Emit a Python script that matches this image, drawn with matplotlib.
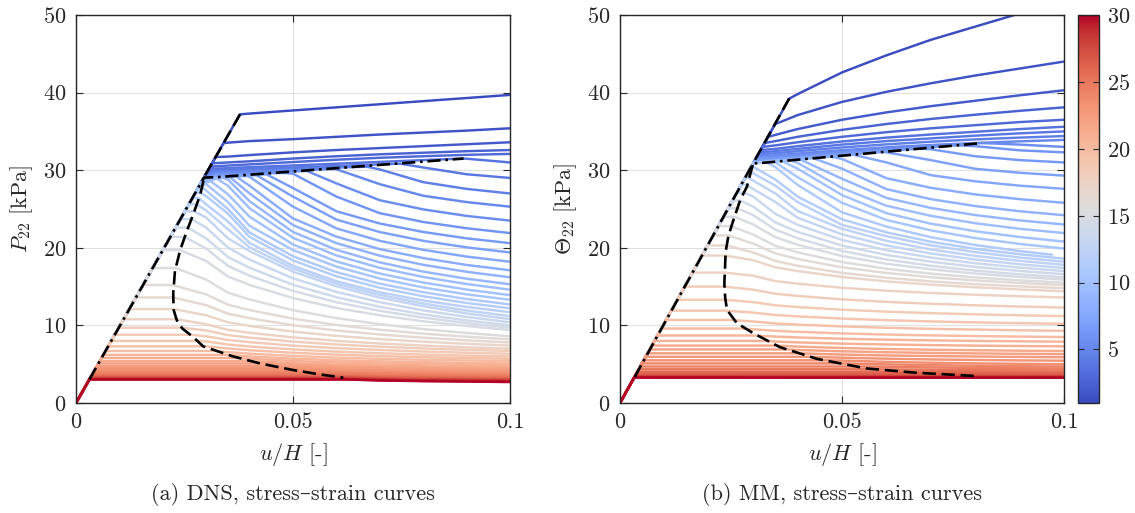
import numpy as np
import matplotlib
matplotlib.use('Agg')
import matplotlib.pyplot as plt
from matplotlib import colors

plt.rcParams['font.family'] = ['cmr10', 'DejaVu Serif']
plt.rcParams['mathtext.fontset'] = 'cm'
plt.rcParams['axes.formatter.use_mathtext'] = True
plt.rcParams['font.size'] = 16

_ = np.nan

# colour parameter of each curve (colorbar value)
levels = [1, 1.5, 2, 2.5, 3, 3.5, 4, 4.5, 5, 5.5, 6, 6.5, 7, 7.5, 8, 8.5, 9, 9.5, 10, 10.5,
          11, 11.5, 12, 12.5, 13, 13.5, 14, 14.5, 15, 15.5, 16, 16.5, 17, 17.5, 18, 18.5, 19, 19.5, 20, 20.5,
          21, 21.5, 22, 22.5, 23, 23.5, 24, 24.5, 25, 25.5, 26, 26.5, 27, 27.5, 28, 28.5, 29, 29.5, 30]

# strain positions where the post-peak stresses were read
grid_x = [0.03, 0.035, 0.04, 0.05, 0.06, 0.07, 0.08, 0.09, 0.1]

# ---------------- (a) DNS ----------------
E_dns = 985.0
dns_yield = [37.2, 33.5, 31.7, 30.6, 30.2, 29.6, 29.4, 29.2, 29.1, 29.0,
             28.9, 28.8, 28.7, 28.6, 28.5, 28.4, 28.3, 28.2, 28.0, 27.9,
             27.5, 27.1, 26.4, 25.6, 24.7, 23.7, 22.6, 21.4, 19.7, 17.4,
             15.2, 13.6, 12.1, 10.8, 9.7, 8.8, 8.0, 7.3, 6.7, 6.2,
             5.8, 5.4, 5.1, 4.8, 4.5, 4.25, 4.0, 3.8, 3.6, 3.5,
             3.4, 3.3, 3.25, 3.2, 3.15, 3.1, 3.08, 3.05, 3.03]
dns_knee_x = [0.0378, 0.0341, 0.0322, 0.0316, 0.0318, 0.0318, 0.032, 0.0321, 0.0322, 0.0322,
              0.0322, 0.0322, 0.0322, 0.0322, 0.0322, 0.0322, 0.0322, 0.0324, 0.031, 0.030,
              0.0293, 0.0287, 0.0283, 0.0278, 0.0272, 0.0266, 0.0258, 0.025, 0.024, 0.0229,
              0.0223, 0.0224, 0.0226, 0.0232, 0.0244, 0.0262, 0.0279, 0.0293, 0.032, 0.0345,
              0.037, 0.0395, 0.0424, 0.0455, 0.0475, 0.05, 0.053, 0.0555, 0.058, 0.059,
              0.0605, 0.0615, 0.062, 0.062, 0.062, 0.062, 0.062, 0.062, 0.062]
dns_knee_s = [37.2, 33.5, 31.7, 30.9, 30.5, 30.2, 30.0, 29.85, 29.7, 29.55,
              29.4, 29.3, 29.22, 29.12, 29.05, 29.0, 28.95, 28.93, 28.6, 28.2,
              27.7, 27.1, 26.4, 25.6, 24.7, 23.7, 22.6, 21.4, 19.7, 17.4,
              15.2, 13.6, 12.1, 10.8, 9.7, 8.8, 8.0, 7.3, 6.7, 6.2,
              5.8, 5.4, 5.1, 4.8, 4.5, 4.25, 4.0, 3.8, 3.6, 3.5,
              3.4, 3.3, 3.25, 3.2, 3.15, 3.1, 3.08, 3.05, 3.03]
# maxima lying on the dash-dot line
dns_peak = {5: (0.089, 31.5), 6: (0.0747, 30.84), 7: (0.067, 30.45), 8: (0.0593, 30.15),
            9: (0.0532, 29.9), 10: (0.0478, 29.65), 11: (0.0439, 29.46), 12: (0.0416, 29.35),
            13: (0.0393, 29.25), 14: (0.037, 29.15), 15: (0.0355, 29.08), 16: (0.0339, 29.0)}
dns_s = np.array([
    [_, _, 37.3, 37.7, 38.1, 38.5, 38.9, 39.3, 39.7],
    [_, 33.55, 33.75, 34.0, 34.3, 34.6, 34.85, 35.1, 35.4],
    [_, 31.75, 31.95, 32.3, 32.6, 32.85, 33.1, 33.35, 33.6],
    [_, 31.0, 31.15, 31.5, 31.8, 32.05, 32.25, 32.45, 32.6],
    [_, 30.6, 30.75, 31.05, 31.35, 31.6, 31.8, 31.98, 32.1],
    [_, 30.27, 30.39, 30.61, 30.84, 31.07, 31.3, 31.48, 31.0],
    [_, 30.06, 30.16, 30.35, 30.55, 30.75, 30.35, 29.48, 29.0],
    [_, 29.9, 29.99, 30.16, 30.33, 30.1, 28.46, 27.59, 27.0],
    [_, 29.75, 29.83, 29.99, 30.12, 28.2, 26.71, 25.89, 25.3],
    [_, 29.6, 29.68, 29.85, 28.3, 26.13, 24.95, 24.11, 23.5],
    [_, 29.45, 29.53, 29.55, 26.6, 24.46, 23.33, 22.52, 21.9],
    [_, 29.34, 29.41, 27.7, 24.71, 23.13, 22.04, 21.22, 20.6],
    [_, 29.26, 29.33, 26.6, 23.63, 22.03, 20.9, 20.06, 19.4],
    [_, 29.17, 29.15, 25.3, 22.5, 20.9, 19.74, 18.87, 18.2],
    [_, 29.12, 28.0, 23.78, 21.44, 19.83, 18.68, 17.79, 17.1],
    [_, 29.07, 27.0, 22.93, 20.6, 18.98, 17.81, 16.91, 16.2],
    [_, 28.8, 26.0, 22.04, 19.74, 18.12, 16.93, 16.02, 15.3],
    [_, 28.0, 25.1, 21.28, 19.01, 17.42, 16.24, 15.33, 14.6],
    [_, 26.9, 24.0, 20.43, 18.24, 16.68, 15.52, 14.62, 13.9],
    [_, 25.9, 22.84, 19.71, 17.58, 16.04, 14.89, 14.0, 13.3],
    [_, 25.0, 21.97, 18.91, 16.86, 15.37, 14.28, 13.4, 12.7],
    [26.65, 24.4, 21.41, 18.37, 16.33, 14.85, 13.76, 12.89, 12.2],
    [25.6, 23.4, 20.62, 17.68, 15.7, 14.27, 13.21, 12.38, 11.7],
    [24.8, 22.4, 20.06, 17.32, 15.38, 13.94, 12.81, 11.92, 11.2],
    [23.9, 21.23, 19.56, 16.92, 15.04, 13.58, 12.47, 11.54, 10.8],
    [22.6, 20.04, 18.47, 16.07, 14.32, 12.99, 11.94, 11.09, 10.4],
    [21.2, 18.82, 17.43, 15.23, 13.63, 12.39, 11.42, 10.64, 10.0],
    [19.9, 17.68, 16.4, 14.44, 12.99, 11.88, 11.0, 10.29, 9.7],
    [18.3, 16.3, 15.22, 13.52, 12.25, 11.3, 10.53, 9.92, 9.4],
    [15.9, 14.22, 13.34, 11.96, 10.94, 10.16, 9.53, 9.02, 8.6],
    [14.0, 12.67, 11.97, 10.87, 10.06, 9.44, 8.94, 8.54, 8.2],
    [12.6, 11.51, 10.93, 10.02, 9.34, 8.83, 8.41, 8.08, 7.8],
    [11.3, 10.4, 9.93, 9.2, 8.65, 8.23, 7.9, 7.63, 7.4],
    [10.15, 9.43, 9.05, 8.45, 8.01, 7.67, 7.4, 7.18, 7.0],
    [9.35, 8.75, 8.42, 7.92, 7.54, 7.26, 7.03, 6.85, 6.7],
    [8.6, 8.13, 7.84, 7.39, 7.07, 6.83, 6.63, 6.48, 6.35],
    [7.94, 7.54, 7.28, 6.9, 6.62, 6.41, 6.24, 6.11, 6.0],
    [7.3, 7.03, 6.8, 6.47, 6.23, 6.04, 5.9, 5.79, 5.7],
    [_, 6.56, 6.36, 6.06, 5.85, 5.69, 5.57, 5.48, 5.4],
    [_, 6.19, 6.0, 5.71, 5.51, 5.37, 5.26, 5.17, 5.1],
    [_, _, 5.69, 5.42, 5.23, 5.1, 5.0, 4.91, 4.85],
    [_, _, 5.39, 5.13, 4.95, 4.83, 4.73, 4.66, 4.6],
    [_, _, _, 4.9, 4.73, 4.61, 4.52, 4.45, 4.4],
    [_, _, _, 4.69, 4.52, 4.4, 4.32, 4.25, 4.2],
    [_, _, _, 4.44, 4.29, 4.18, 4.1, 4.05, 4.0],
    [_, _, _, _, 4.09, 3.98, 3.9, 3.85, 3.8],
    [_, _, _, _, 3.9, 3.81, 3.74, 3.69, 3.65],
    [_, _, _, _, 3.76, 3.65, 3.58, 3.54, 3.5],
    [_, _, _, _, 3.59, 3.49, 3.43, 3.38, 3.35],
    [_, _, _, _, 3.5, 3.39, 3.33, 3.28, 3.25],
    [_, _, _, _, _, 3.3, 3.23, 3.19, 3.15],
    [_, _, _, _, _, 3.2, 3.13, 3.09, 3.05],
    [_, _, _, _, _, 3.15, 3.08, 3.04, 3.0],
    [_, _, _, _, _, 3.1, 3.03, 2.99, 2.95],
    [_, _, _, _, _, 3.05, 2.98, 2.94, 2.9],
    [_, _, _, _, _, 3.0, 2.93, 2.89, 2.85],
    [_, _, _, _, _, 2.97, 2.89, 2.84, 2.8],
    [_, _, _, _, _, 2.93, 2.85, 2.8, 2.75],
    [_, _, _, _, _, 2.9, 2.81, 2.76, 2.7],
])
dns_dash_x = [0.0378, 0.0296, 0.0286, 0.027, 0.0255, 0.024, 0.0228, 0.0224, 0.0225, 0.0232,
              0.0245, 0.027, 0.0293, 0.033, 0.0362, 0.0424, 0.050, 0.056, 0.0616]
dns_dash_y = [37.2, 29.2, 26.8, 24.3, 22.1, 19.7, 17.0, 14.1, 12.0, 10.7,
              9.6, 8.5, 7.3, 6.6, 6.0, 5.1, 4.25, 3.7, 3.26]
dns_dot_x = [0.0031, 0.0295, 0.0324, 0.0893]
dns_dot_y = [3.05, 29.05, 29.1, 31.5]

# ---------------- (b) MM ----------------
E_mm = 1029.0
mm_yield = [39.25, 35.9, 34.3, 33.5, 33.0, 32.6, 32.3, 32.05, 31.8, 31.6,
            31.45, 31.3, 31.2, 31.1, 31.0, 30.95, 30.9, 30.9, 30.9, 30.9,
            30.9, 30.5, 29.8, 29.0, 28.1, 27.1, 26.1, 25.1, 24.0, 22.8,
            21.6, 20.3, 19.0, 16.8, 15.0, 13.3, 11.9, 10.7, 9.6, 8.7,
            8.0, 7.4, 6.9, 6.4, 5.95, 5.5, 5.1, 4.7, 4.35, 4.05,
            3.85, 3.65, 3.5, 3.42, 3.38, 3.35, 3.33, 3.3, 3.27]
mm_knee_x = [0.0382, 0.0349, 0.0334, 0.0326, 0.0321, 0.0317, 0.0314, 0.0312, 0.0309, 0.0308,
             0.0306, 0.0305, 0.0304, 0.0303, 0.0302, 0.0301, 0.0301, 0.0301, 0.0301, 0.0301,
             0.033, 0.0299, 0.0295, 0.029, 0.0285, 0.0279, 0.027, 0.0264, 0.0258, 0.025,
             0.0244, 0.0241, 0.0238, 0.0236, 0.0235, 0.0236, 0.0238, 0.025, 0.027, 0.030,
             0.0325, 0.0353, 0.0378, 0.0405, 0.0428, 0.0462, 0.050, 0.0535, 0.0575, 0.063,
             0.069, 0.075, 0.079, 0.1, 0.1, 0.1, 0.1, 0.1, 0.1]
mm_knee_s = [39.25, 35.9, 34.3, 33.5, 33.0, 32.6, 32.3, 32.05, 31.8, 31.6,
             31.45, 31.3, 31.2, 31.1, 31.0, 30.95, 30.9, 30.9, 30.9, 30.9,
             30.99, 30.5, 29.8, 29.0, 28.1, 27.1, 26.1, 25.1, 24.0, 22.8,
             21.6, 20.3, 19.0, 16.8, 15.0, 13.3, 11.9, 10.7, 9.6, 8.7,
             8.0, 7.4, 6.9, 6.4, 5.95, 5.5, 5.1, 4.7, 4.35, 4.05,
             3.85, 3.65, 3.5, 3.42, 3.37, 3.33, 3.3, 3.28, 3.26]
mm_peak = {9: (0.0815, 33.5), 10: (0.076, 33.2), 11: (0.0675, 32.78), 12: (0.0592, 32.35),
           13: (0.0525, 32.0), 14: (0.0473, 31.75), 15: (0.0435, 31.55), 16: (0.0405, 31.4),
           17: (0.0383, 31.27), 18: (0.0365, 31.17), 19: (0.0345, 31.07)}
mm_last = {20: (0.0975, 19.1)}
mm_s = np.array([
    [_, _, 39.8, 42.6, 44.8, 46.8, 48.5, 50.2, 51.8],
    [_, 35.95, 37.1, 38.8, 40.1, 41.2, 42.2, 43.1, 44.0],
    [_, 34.55, 35.3, 36.5, 37.45, 38.25, 38.95, 39.65, 40.3],
    [_, 33.75, 34.3, 35.2, 35.95, 36.6, 37.15, 37.65, 38.1],
    [_, 33.2, 33.6, 34.3, 34.9, 35.4, 35.8, 36.2, 36.5],
    [_, 32.75, 33.1, 33.7, 34.2, 34.6, 34.95, 35.3, 35.6],
    [_, 32.45, 32.75, 33.3, 33.75, 34.1, 34.45, 34.75, 35.0],
    [_, 32.18, 32.45, 32.93, 33.33, 33.67, 33.97, 34.2, 34.4],
    [_, 31.92, 32.15, 32.58, 32.95, 33.25, 33.5, 33.72, 33.9],
    [_, 31.76, 31.95, 32.32, 32.7, 33.07, 33.45, 33.3, 33.0],
    [_, 31.62, 31.81, 32.2, 32.58, 32.97, 33.1, 32.56, 32.3],
    [_, 31.48, 31.68, 32.08, 32.48, 32.7, 31.8, 31.3, 31.0],
    [_, 31.38, 31.58, 31.98, 32.3, 31.3, 30.18, 29.67, 29.3],
    [_, 31.3, 31.5, 31.9, 31.0, 29.36, 28.57, 28.01, 27.6],
    [_, 31.2, 31.45, 31.45, 28.97, 27.73, 26.88, 26.27, 25.8],
    [_, 31.15, 31.42, 30.2, 27.56, 26.27, 25.38, 24.71, 24.2],
    [_, 31.15, 31.38, 28.9, 26.43, 25.14, 24.22, 23.53, 23.0],
    [_, 31.2, 30.95, 27.7, 25.42, 24.12, 23.17, 22.45, 21.9],
    [_, 31.15, 30.2, 26.8, 24.46, 23.11, 22.14, 21.39, 20.8],
    [_, 31.0, 29.1, 25.8, 23.59, 22.25, 21.26, 20.5, 19.9],
    [_, 30.4, 28.1, 24.57, 22.74, 21.37, 20.36, 19.58, _],
    [30.45, 28.8, 26.6, 23.68, 21.99, 20.78, 19.87, 19.17, 18.6],
    [29.6, 28.0, 25.9, 22.95, 21.5, 20.32, 19.44, 18.75, 18.2],
    [28.66, 27.0, 24.74, 22.45, 20.9, 19.79, 18.96, 18.32, 17.8],
    [27.57, 25.9, 23.87, 21.73, 20.31, 19.27, 18.49, 17.88, 17.4],
    [26.6, 24.37, 22.96, 21.01, 19.69, 18.74, 18.01, 17.45, 17.0],
    [25.3, 23.28, 22.05, 20.29, 19.08, 18.21, 17.54, 17.02, 16.6],
    [24.2, 22.34, 21.23, 19.6, 18.49, 17.68, 17.06, 16.58, 16.2],
    [23.0, 21.37, 20.4, 18.94, 17.95, 17.23, 16.68, 16.25, 15.9],
    [21.7, 20.25, 19.41, 18.16, 17.3, 16.67, 16.19, 15.81, 15.5],
    [20.55, 19.28, 18.55, 17.49, 16.76, 16.21, 15.8, 15.47, 15.2],
    [19.4, 18.31, 17.68, 16.77, 16.14, 15.67, 15.31, 15.03, 14.8],
    [18.4, 17.48, 17.0, 16.24, 15.67, 15.25, 14.91, 14.63, 14.4],
    [16.4, 15.71, 15.38, 14.85, 14.47, 14.18, 13.95, 13.76, 13.6],
    [14.6, 14.08, 13.8, 13.36, 13.03, 12.79, 12.59, 12.43, 12.3],
    [13.0, 12.59, 12.37, 12.02, 11.77, 11.58, 11.43, 11.3, 11.2],
    [11.65, 11.34, 11.16, 10.88, 10.67, 10.51, 10.39, 10.29, 10.2],
    [10.5, 10.25, 10.1, 9.87, 9.69, 9.56, 9.46, 9.37, 9.3],
    [9.5, 9.3, 9.17, 8.97, 8.82, 8.71, 8.63, 8.56, 8.5],
    [_, 8.56, 8.45, 8.28, 8.16, 8.07, 8.0, 7.95, 7.9],
    [_, 7.92, 7.81, 7.65, 7.54, 7.46, 7.39, 7.34, 7.3],
    [_, _, 7.27, 7.09, 6.96, 6.87, 6.8, 6.74, 6.7],
    [_, _, 6.83, 6.66, 6.54, 6.46, 6.39, 6.34, 6.3],
    [_, _, _, 6.24, 6.13, 6.05, 5.99, 5.94, 5.9],
    [_, _, _, 5.84, 5.71, 5.61, 5.55, 5.49, 5.45],
    [_, _, _, 5.47, 5.3, 5.19, 5.11, 5.05, 5.0],
    [_, _, _, _, 4.98, 4.87, 4.8, 4.74, 4.7],
    [_, _, _, _, 4.67, 4.58, 4.52, 4.48, 4.45],
    [_, _, _, _, 4.33, 4.29, 4.25, 4.22, 4.2],
    [_, _, _, _, _, 4.04, 4.0, 3.97, 3.95],
    [_, _, _, _, _, _, 3.83, 3.81, 3.8],
    [_, _, _, _, _, _, 3.645, 3.63, 3.62],
    [_, _, _, _, _, _, _, 3.5, 3.5],
    [_, _, _, _, _, _, _, _, _],
    [_, _, _, _, _, _, _, _, _],
    [_, _, _, _, _, _, _, _, _],
    [_, _, _, _, _, _, _, _, _],
    [_, _, _, _, _, _, _, _, _],
    [_, _, _, _, _, _, _, _, _],
])
mm_dash_x = [0.0381, 0.0300, 0.0286, 0.0271, 0.0255, 0.0244, 0.0238, 0.0235, 0.0237, 0.0241,
             0.0263, 0.030, 0.036, 0.0443, 0.0555, 0.0667, 0.0809]
mm_dash_y = [39.25, 30.9, 27.9, 26.2, 23.5, 21.5, 19.5, 15.4, 13.5, 12.0,
             10.3, 9.0, 7.2, 5.7, 4.45, 3.9, 3.45]
mm_dot_x = [0.0033, 0.0300, 0.0312, 0.0815]
mm_dot_y = [3.35, 30.9, 30.9, 33.5]

cmap = plt.get_cmap('coolwarm')
norm = colors.Normalize(vmin=1, vmax=30)
ink = '#262626'


def build(i, E, sy, kx, ks, table, peaks, last):
    pts = [(0.0, 0.0), (sy[i] / E, sy[i]), (kx[i], ks[i])]
    if i in peaks:
        pts.append(peaks[i])
    if i in last:
        pts.append(last[i])
    for g, s in zip(grid_x, table[i]):
        if not np.isnan(s) and g > kx[i]:
            pts.append((g, s))
    pts.sort()
    return [p[0] for p in pts], [p[1] for p in pts]


def panel(ax, E, sy, kx, ks, table, peaks, last, dash, dot, ylab):
    for i in range(len(levels)):
        x, y = build(i, E, sy, kx, ks, table, peaks, last)
        ax.plot(x, y, color=cmap(norm(levels[i])), lw=1.75,
                solid_joinstyle='round', solid_capstyle='butt', zorder=2)
    ax.plot(dash[0], dash[1], color='k', lw=1.9, dashes=(5, 2.2), zorder=3)
    ax.plot(dot[0], dot[1], color='k', lw=1.9, dashes=(5, 1.8, 1, 1.8), zorder=3)
    ax.set_xlim(0, 0.1)
    ax.set_ylim(0, 50)
    ax.set_xticks([0, 0.05, 0.1])
    ax.set_xticklabels(['0', '0.05', '0.1'])
    ax.set_yticks([0, 10, 20, 30, 40, 50])
    ax.grid(True, color='#e0e0e0', lw=0.8)
    ax.set_axisbelow(True)
    ax.tick_params(direction='in', top=True, right=True, length=5, width=0.8,
                   color=ink, labelcolor=ink, pad=7)
    for sp in ax.spines.values():
        sp.set_color(ink)
        sp.set_linewidth(1.0)
    ax.set_xlabel(r'$u/H$ [-]', color=ink, labelpad=6)
    ax.set_ylabel(ylab, color=ink, labelpad=6)


fig = plt.figure(figsize=(11.35, 5.13), dpi=100)
W, H = 1135.0, 513.0
ax1 = fig.add_axes([76 / W, 110 / H, 434 / W, 388 / H])
ax2 = fig.add_axes([620 / W, 110 / H, 444 / W, 388 / H])
cax = fig.add_axes([1078 / W, 110 / H, 21 / W, 388 / H])

panel(ax1, E_dns, dns_yield, dns_knee_x, dns_knee_s, dns_s, dns_peak, {},
      (dns_dash_x, dns_dash_y), (dns_dot_x, dns_dot_y), r'$P_{22}$ [kPa]')
panel(ax2, E_mm, mm_yield, mm_knee_x, mm_knee_s, mm_s, mm_peak, mm_last,
      (mm_dash_x, mm_dash_y), (mm_dot_x, mm_dot_y), r'$\Theta_{22}$ [kPa]')

sm = plt.cm.ScalarMappable(norm=norm, cmap=cmap)
cb = fig.colorbar(sm, cax=cax, ticks=[5, 10, 15, 20, 25, 30])
cb.outline.set_edgecolor(ink)
cb.outline.set_linewidth(1.0)
cax.tick_params(direction='in', left=True, right=True, length=4, width=0.8,
                color=ink, labelcolor=ink, pad=6)

fig.text((76 + 217) / W, 19 / H, '(a) DNS, stress–strain curves', ha='center', va='center',
         color=ink)
fig.text((620 + 222) / W, 19 / H, '(b) MM, stress–strain curves', ha='center', va='center',
         color=ink)

fig.savefig('out.png', dpi=100)
